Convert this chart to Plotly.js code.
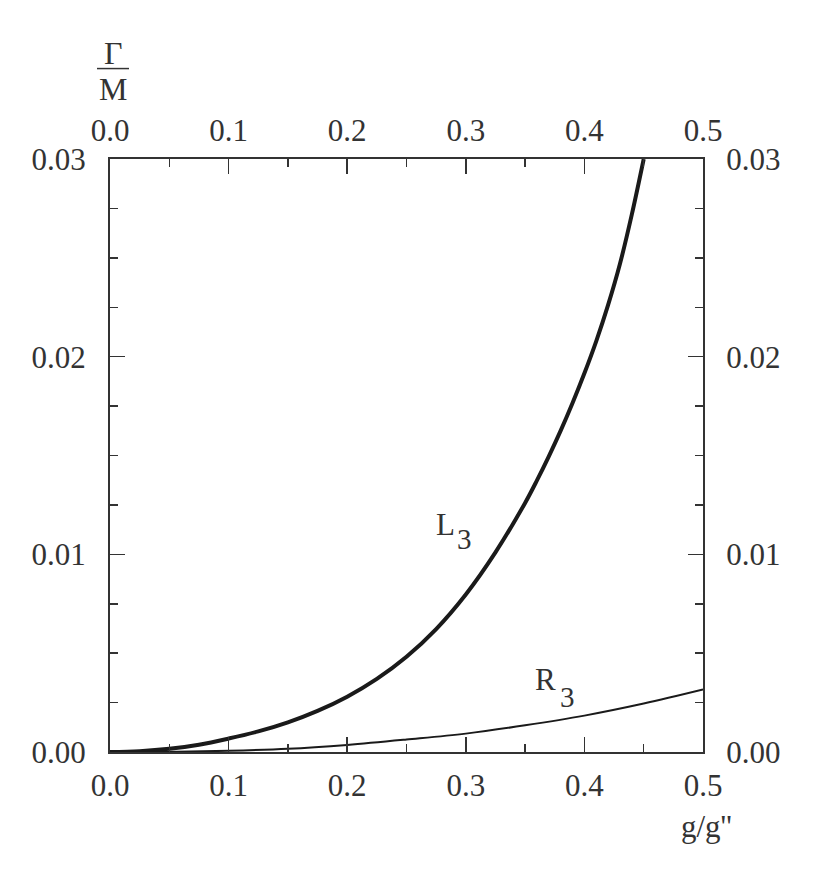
<!DOCTYPE html>
<html>
<head>
<meta charset="utf-8">
<script src="https://cdn.plot.ly/plotly-3.0.1.min.js"></script>
<style>html,body{margin:0;padding:0;background:#fff;}#chart{width:813px;height:872px;}</style>
</head>
<body>
<div id="chart"></div>
<script>
// Data
const xL3 = [0, 0.025, 0.05, 0.075, 0.1, 0.125, 0.15, 0.175, 0.2, 0.225, 0.25, 0.275, 0.3, 0.325, 0.35, 0.36, 0.37, 0.38, 0.39, 0.4, 0.41, 0.42, 0.43, 0.44, 0.45];
const yL3 = [0, 0.00004, 0.00016, 0.00037, 0.00068, 0.00104, 0.00150, 0.00208, 0.00280, 0.00370, 0.00482, 0.00622, 0.00797, 0.0101, 0.0126, 0.01374, 0.01496, 0.01626, 0.01766, 0.01916, 0.02079, 0.02262, 0.0247, 0.0272, 0.0300];
const xR3 = [0, 0.05, 0.1, 0.15, 0.2, 0.25, 0.3, 0.35, 0.4, 0.45, 0.5];
const yR3 = [0, 0.00001, 0.00006, 0.00016, 0.00036, 0.00063, 0.00093, 0.00135, 0.00184, 0.00245, 0.00316];
const xRange = [0, 0.5];
const yRange = [0, 0.03];
const xTitle = "g/g''";
const yTitleTop = "\u0393";
const yTitleBottom = "M";

const FONT = "Liberation Serif, Times New Roman, serif";
const TXT = "#333333";
const AX = "#333333";

const traces = [
  {x: xL3, y: yL3, type: 'scatter', mode: 'lines', line: {color: '#1a1a1a', width: 4, shape: 'spline', smoothing: 1}, xaxis: 'x', yaxis: 'y', hoverinfo: 'skip'},
  {x: xR3, y: yR3, type: 'scatter', mode: 'lines', line: {color: '#1a1a1a', width: 2, shape: 'spline', smoothing: 1}, xaxis: 'x', yaxis: 'y', hoverinfo: 'skip'},
  {x: [], y: [], type: 'scatter', mode: 'lines', xaxis: 'x2', yaxis: 'y2', hoverinfo: 'skip'}
];

const xCommon = {
  range: xRange, dtick: 0.1, tick0: 0, tickformat: '.1f',
  ticks: 'inside', ticklen: 15, tickwidth: 1.5, tickcolor: AX,
  minor: {dtick: 0.05, tick0: 0, ticks: 'inside', ticklen: 8, tickwidth: 1.5, tickcolor: AX},
  showline: true, linecolor: AX, linewidth: 2, showgrid: false, zeroline: false,
  tickfont: {family: FONT, size: 31, color: TXT}, fixedrange: true
};
const yCommon = {
  range: yRange, dtick: 0.01, tick0: 0, tickformat: '.2f',
  ticks: 'inside', ticklen: 15, tickwidth: 1.5, tickcolor: AX,
  minor: {dtick: 0.0025, tick0: 0, ticks: 'inside', ticklen: 8, tickwidth: 1.5, tickcolor: AX},
  showline: true, linecolor: AX, linewidth: 2, showgrid: false, zeroline: false,
  tickfont: {family: FONT, size: 31, color: TXT}, fixedrange: true
};

function ann(xref, yref, x, y, text, size) {
  return {xref: xref, yref: yref, x: x, y: y, text: text, showarrow: false,
          xanchor: 'center', yanchor: 'middle', font: {family: FONT, size: size, color: TXT}};
}

const layout = {
  width: 813, height: 872,
  margin: {l: 110, r: 110, t: 159, b: 120, pad: 0},
  paper_bgcolor: '#ffffff', plot_bgcolor: '#ffffff',
  showlegend: false,
  xaxis: Object.assign({}, xCommon, {side: 'bottom', ticklabelstandoff: 5}),
  yaxis: Object.assign({}, yCommon, {side: 'left', ticklabelstandoff: 16}),
  xaxis2: Object.assign({}, xCommon, {side: 'top', overlaying: 'x', anchor: 'y2', ticklabelstandoff: 4}),
  yaxis2: Object.assign({}, yCommon, {side: 'right', overlaying: 'y', anchor: 'x2', ticklabelstandoff: 15}),
  annotations: [
    ann('x', 'y', 0.2833, 0.01153, 'L', 31),
    ann('x', 'y', 0.2985, 0.0108, '3', 29),
    ann('x', 'y', 0.3668, 0.00368, 'R', 31),
    ann('x', 'y', 0.3858, 0.00279, '3', 29),
    ann('paper', 'paper', 1.0067, -0.1254, xTitle, 31),
    ann('paper', 'paper', 0.0059, 1.178, yTitleTop, 32),
    ann('paper', 'paper', 0.0059, 1.1186, yTitleBottom, 32)
  ],
  shapes: [
    {type: 'line', xref: 'paper', yref: 'paper', x0: -0.0219, x1: 0.032, y0: 1.1525, y1: 1.1525, line: {color: TXT, width: 1.5}}
  ]
};

Plotly.newPlot('chart', traces, layout, {displayModeBar: false, staticPlot: true});
</script>
</body>
</html>
